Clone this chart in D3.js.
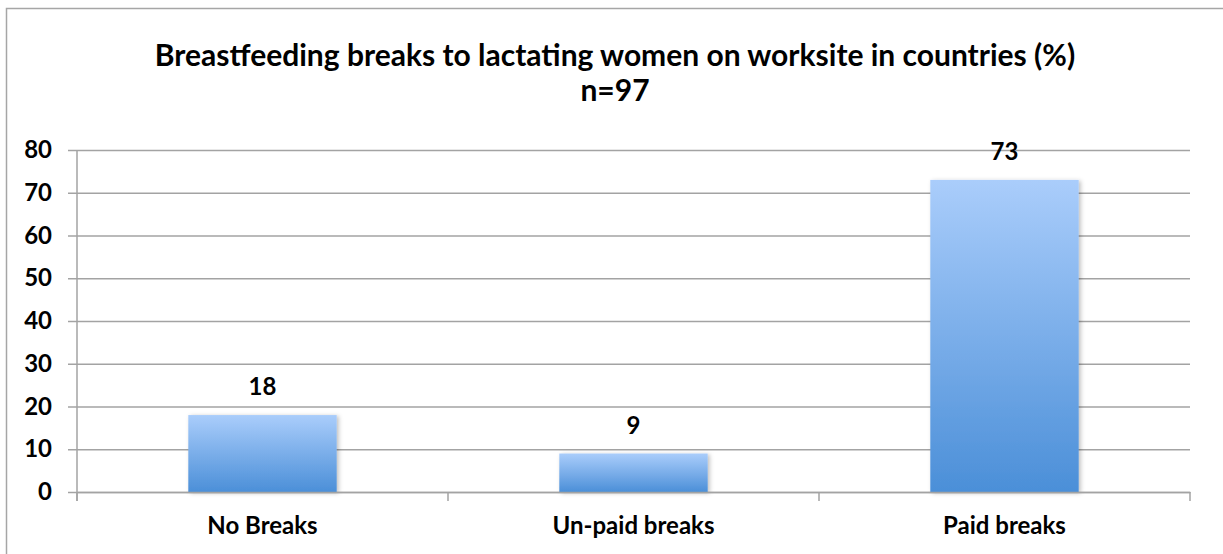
<!DOCTYPE html>
<html>
<head>
<meta charset="utf-8">
<script src="https://cdn.jsdelivr.net/npm/d3@7"></script>
<style>
  body { margin: 0; background: #fff; }
  svg { display: block; font-family: Lato, "Open Sans", sans-serif; }
</style>
</head>
<body>
<div id="chart"></div>
<script>
const categories = ["No Breaks", "Un-paid breaks", "Paid breaks"];
const values = [18, 9, 73];
const yTicks = [0, 10, 20, 30, 40, 50, 60, 70, 80];
const titleLines = ["Breastfeeding breaks to lactating women on worksite in countries (%)", "n=97"];

const width = 1223, height = 554;
const margin = { top: 150, right: 33, bottom: 62, left: 77 };
const plotW = width - margin.left - margin.right;
const plotH = height - margin.top - margin.bottom;
const labelSize = 24;

const svg = d3.select("#chart").append("svg")
  .attr("width", width)
  .attr("height", height);

const defs = svg.append("defs");
const grad = defs.append("linearGradient")
  .attr("id", "barGrad")
  .attr("x1", 0).attr("y1", 0).attr("x2", 0).attr("y2", 1);
grad.append("stop").attr("offset", "0%").attr("stop-color", "#aacdfb");
grad.append("stop").attr("offset", "100%").attr("stop-color", "#4b8fd8");

const shadow = defs.append("filter").attr("id", "shadow")
  .attr("x", "-10%").attr("y", "-10%").attr("width", "130%").attr("height", "130%");
shadow.append("feDropShadow")
  .attr("dx", 2).attr("dy", 1).attr("stdDeviation", 2)
  .attr("flood-color", "#000").attr("flood-opacity", 0.25);

// outer frame (cropped on the right/bottom in the original)
svg.append("rect")
  .attr("x", 6.5).attr("y", 8.5)
  .attr("width", width + 20).attr("height", height + 20)
  .attr("fill", "none")
  .attr("stroke", "#a6a6a6")
  .attr("stroke-width", 1.5);

svg.append("g")
  .selectAll("text")
  .data(titleLines)
  .join("text")
  .attr("x", 615)
  .attr("y", (d, i) => 66 + i * 35)
  .attr("text-anchor", "middle")
  .attr("font-size", 30)
  .attr("font-weight", "bold")
  .attr("fill", "#000")
  .text(d => d);

const x = d3.scaleBand().domain(categories).range([0, plotW]).padding(0);
const y = d3.scaleLinear().domain([0, 80]).range([plotH, 0]);

const g = svg.append("g").attr("transform", `translate(${margin.left},${margin.top})`);

// gridlines + y ticks
const yAxis = g.append("g")
  .call(d3.axisLeft(y).tickValues(yTicks).tickSize(9).tickPadding(16))
  .call(a => a.select(".domain").remove());
yAxis.selectAll(".tick line")
  .attr("x2", plotW)
  .attr("x1", -9)
  .attr("stroke", "#a3a3a3")
  .attr("stroke-width", 1.5);
yAxis.selectAll(".tick text")
  .attr("font-size", labelSize)
  .attr("font-weight", "bold")
  .attr("font-family", "Lato, 'Open Sans', sans-serif")
  .attr("fill", "#000");

// y axis line
g.append("line")
  .attr("x1", 0).attr("x2", 0)
  .attr("y1", 0).attr("y2", plotH + 9)
  .attr("stroke", "#a3a3a3").attr("stroke-width", 1.5);

// bars
const barW = x.bandwidth() * 0.4;
g.append("g")
  .selectAll("rect")
  .data(values)
  .join("rect")
  .attr("x", (d, i) => x(categories[i]) + (x.bandwidth() - barW) / 2)
  .attr("y", d => y(d))
  .attr("width", barW)
  .attr("height", d => plotH - y(d))
  .attr("fill", "url(#barGrad)")
  .attr("filter", "url(#shadow)");

// x axis
const xAxis = g.append("g")
  .attr("transform", `translate(0,${plotH})`)
  .call(d3.axisBottom(x).tickSize(0).tickPadding(25));
xAxis.select(".domain").attr("stroke", "#a3a3a3").attr("stroke-width", 1.5);
xAxis.selectAll(".tick text")
  .attr("font-size", labelSize)
  .attr("font-weight", "bold")
  .attr("font-family", "Lato, 'Open Sans', sans-serif")
  .attr("fill", "#000");
g.append("g")
  .selectAll("line")
  .data(d3.range(categories.length + 1))
  .join("line")
  .attr("x1", i => i * x.step()).attr("x2", i => i * x.step())
  .attr("y1", plotH).attr("y2", plotH + 9)
  .attr("stroke", "#a3a3a3").attr("stroke-width", 1.5);

// value labels
g.append("g")
  .selectAll("text")
  .data(values)
  .join("text")
  .attr("x", (d, i) => x(categories[i]) + x.bandwidth() / 2)
  .attr("y", d => y(d) - 20)
  .attr("text-anchor", "middle")
  .attr("font-size", labelSize)
  .attr("font-weight", "bold")
  .attr("fill", "#000")
  .text(d => d);
</script>
</body>
</html>
